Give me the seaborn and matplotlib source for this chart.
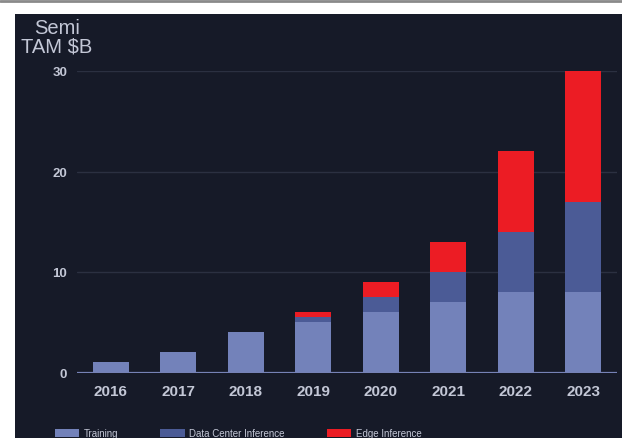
import numpy as np
import pandas as pd
import matplotlib
matplotlib.use("Agg")
import matplotlib.pyplot as plt
from matplotlib.patches import Rectangle, Patch
import seaborn as sns

# Semiconductor TAM for AI, $B, by year and segment
years = ["2016", "2017", "2018", "2019", "2020", "2021", "2022", "2023"]
training = [1, 2, 4, 5, 6, 7, 8, 8]
dc_inference = [0, 0, 0, 0.5, 1.5, 3, 6, 9]
edge_inference = [0, 0, 0, 0.5, 1.5, 3, 8, 13]
y_ticks = [0, 10, 20, 30]

BG = "#161a28"
TEXT = "#c3c7d6"
C_TRAIN = "#7382ba"
C_DC = "#4b5b96"
C_EDGE = "#ec1c24"

sns.set_theme(style="dark")
plt.rcParams["font.family"] = ["Liberation Sans", "DejaVu Sans"]

df = pd.DataFrame({
    "year": years,
    "training": training,
    "dc": dc_inference,
    "edge": edge_inference,
})
df["lvl1"] = df["training"]
df["lvl2"] = df["training"] + df["dc"]
df["lvl3"] = df["lvl2"] + df["edge"]

fig = plt.figure(figsize=(6.22, 4.39), dpi=100, facecolor="white")
W, H = 622, 439
# dark panel with a thin grey rule above it
fig.patches.append(Rectangle((15 / W, 0), 1 - 15 / W, (H - 15) / H,
                             transform=fig.transFigure, facecolor=BG,
                             edgecolor="none", zorder=-5))
fig.add_artist(plt.Line2D([0, 1], [1 - 2 / H, 1 - 2 / H], transform=fig.transFigure,
                          color="#8a8a8a", lw=2))

ax = fig.add_axes([77 / W, (H - 373.5) / H, (617 - 77) / W, (373.5 - 72) / H])
ax.set_facecolor(BG)

# stacked bars drawn as overlapping cumulative totals
for col, color in [("lvl3", C_EDGE), ("lvl2", C_DC), ("lvl1", C_TRAIN)]:
    sns.barplot(data=df, x="year", y=col, color=color, width=0.53,
                saturation=1, ax=ax, zorder=3, linewidth=0)

ax.set_xlim(-0.5, 7.5)
ax.set_ylim(0, 30)
ax.set_yticks(y_ticks)
ax.set_xlabel("")
ax.set_ylabel("")
ax.grid(axis="y", color="#2b3041", lw=1, zorder=0)
ax.grid(axis="x", visible=False)
for s in ax.spines.values():
    s.set_visible(False)
ax.axhline(0, color="#7682b6", lw=1.6, zorder=4)
ax.tick_params(axis="both", length=0)
ax.tick_params(axis="y", pad=7)
ax.tick_params(axis="x", pad=8)
for lab in ax.get_yticklabels():
    lab.set_color(TEXT)
    lab.set_fontsize(9.5)
    lab.set_fontweight("bold")
for lab in ax.get_xticklabels():
    lab.set_color(TEXT)
    lab.set_fontsize(11)
    lab.set_fontweight("bold")

fig.text(57 / W, 1 - 19 / H, "Semi\nTAM $B", ha="center", va="top",
         fontsize=14.5, color=TEXT, linespacing=1.0)

handles = [Patch(facecolor=C_TRAIN, edgecolor="none", label="Training"),
           Patch(facecolor=C_DC, edgecolor="none", label="Data Center Inference"),
           Patch(facecolor=C_EDGE, edgecolor="none", label="Edge Inference")]
leg = fig.legend(handles=handles, loc="center left", ncol=3,
                 bbox_to_anchor=(46 / W, 5 / H), frameon=False,
                 handlelength=2.5, handleheight=0.9,
                 columnspacing=4.3, handletextpad=0.5,
                 prop={"size": 7})
for t in leg.get_texts():
    t.set_color(TEXT)

fig.savefig("out.png", dpi=100, facecolor="white")
